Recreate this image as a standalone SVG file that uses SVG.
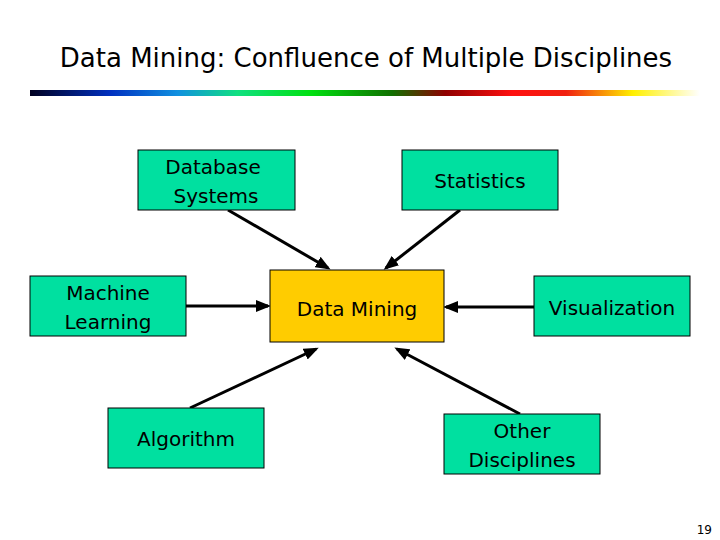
<svg xmlns="http://www.w3.org/2000/svg" width="720" height="540" viewBox="0 0 720 540">
<style>
.box{fill:#00E0A0;stroke:#000;stroke-width:1}
.t{font-family:"DejaVu Sans",Verdana,sans-serif;font-size:20px;fill:#000;text-anchor:middle}
.c line{stroke:#000;stroke-width:3;marker-end:url(#ah)}
</style>
<defs>
<linearGradient id="g" x1="0" x2="1">
<stop offset="0" stop-color="#000020"/>
<stop offset="0.12" stop-color="#0030C0"/>
<stop offset="0.22" stop-color="#1090E0"/>
<stop offset="0.31" stop-color="#10E080"/>
<stop offset="0.42" stop-color="#00E010"/>
<stop offset="0.54" stop-color="#107000"/>
<stop offset="0.62" stop-color="#900000"/>
<stop offset="0.72" stop-color="#FF1010"/>
<stop offset="0.8" stop-color="#F02010"/>
<stop offset="0.9" stop-color="#FFF000"/>
<stop offset="1" stop-color="#FFFFFF"/>
</linearGradient>
<marker id="ah" markerWidth="5" markerHeight="4" refX="4" refY="2" orient="auto" markerUnits="strokeWidth">
<path d="M0,0L5,2L0,4z" fill="#000"/>
</marker>
</defs>
<rect width="720" height="540" fill="#fff"/>
<text x="366" y="67" font-family="DejaVu Sans,Verdana,sans-serif" font-size="26" text-anchor="middle">Data Mining: Confluence of Multiple Disciplines</text>
<rect x="30" y="90" width="670" height="6" fill="url(#g)"/>
<g class="c">
<line x1="228" y1="210" x2="328" y2="268"/>
<line x1="460" y1="210" x2="386" y2="268"/>
<line x1="186" y1="306" x2="268" y2="306"/>
<line x1="534" y1="307" x2="446" y2="307"/>
<line x1="190" y1="408" x2="316" y2="349"/>
<line x1="520" y1="414" x2="397" y2="349"/>
</g>
<g id="db"><rect class="box" x="138" y="150" width="157" height="60"/><text class="t" x="213" y="174">Database</text><text class="t" x="216" y="203">Systems</text></g>
<g id="stats"><rect class="box" x="402" y="150" width="156" height="60"/><text class="t" x="480" y="188">Statistics</text></g>
<g id="ml"><rect class="box" x="30" y="276" width="156" height="60"/><text class="t" x="108" y="300">Machine</text><text class="t" x="108" y="329">Learning</text></g>
<g id="dm"><rect x="270" y="270" width="174" height="72" fill="#FFCC00" stroke="#000"/><text class="t" x="357" y="316" font-size="24">Data Mining</text></g>
<g id="viz"><rect class="box" x="534" y="276" width="156" height="60"/><text class="t" x="612" y="315">Visualization</text></g>
<g id="alg"><rect class="box" x="108" y="408" width="156" height="60"/><text class="t" x="186" y="446">Algorithm</text></g>
<g id="other"><rect class="box" x="444" y="414" width="156" height="60"/><text class="t" x="522" y="438">Other</text><text class="t" x="522" y="467">Disciplines</text></g>
<text x="712" y="534" font-family="DejaVu Sans,sans-serif" font-size="12" text-anchor="end">19</text>
</svg>
